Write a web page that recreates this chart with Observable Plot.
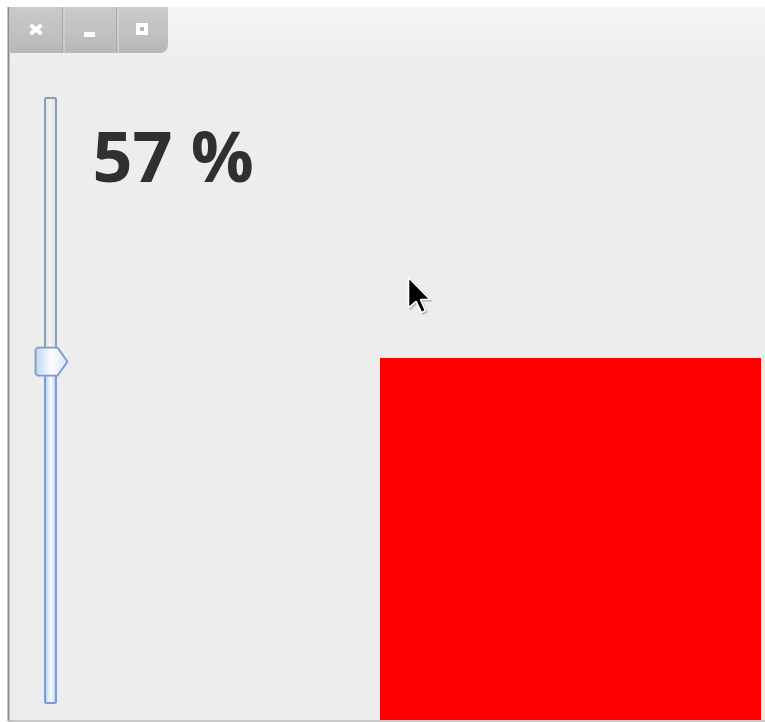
<!DOCTYPE html>
<html><head><meta charset="utf-8">
<script src="https://cdn.jsdelivr.net/npm/d3@7"></script>
<script src="https://cdn.jsdelivr.net/npm/@observablehq/plot@0.6"></script>
<style>html,body{margin:0;padding:0;background:#fff;overflow:hidden}#chart svg{display:block}</style>
</head><body><div id="chart"></div>
<script>
// ---- data ----
const sliderValue = [57];          // percent shown by the slider
const sliderDomain = [0, 100];
const labelUnit = ["%"];
const windowButtons = ["close", "minimize", "maximize"];

// ---- layout ----
const W = 765, H = 722;
const value = sliderValue[0];
const valueY = d3.scaleLinear(sliderDomain, [690, 113]);
const cy = valueY(value);

const defs = () => {
  const d = d3.create("svg:defs");
  const grad = (id, x1, y1, x2, y2, stops) => {
    const g = d.append("linearGradient").attr("id", id).attr("gradientUnits", "userSpaceOnUse")
      .attr("x1", x1).attr("y1", y1).attr("x2", x2).attr("y2", y2);
    stops.forEach(([o, c]) => g.append("stop").attr("offset", o).attr("stop-color", c));
  };
  grad("titleGrad", 0, 7, 0, 62, [[0, "#f6f6f4"], [1, "#ededed"]]);
  grad("tabGrad", 0, 7, 0, 53, [[0, "#cbcbc9"], [1, "#b8b8b6"]]);
  grad("trackGrad", 45, 0, 56, 0, [[0, "#b7c9ea"], [0.35, "#e6eefa"], [0.6, "#f7f9fd"], [0.85, "#c9d8f1"], [1, "#9fb8e3"]]);
  grad("upperGrad", 45, 0, 56, 0, [[0, "#dfe3e8"], [0.5, "#f1f2f4"], [1, "#dde1e6"]]);
  grad("thumbGrad", 35, 0, 67, 0, [[0, "#c3d5f1"], [0.5, "#fbfcfe"], [1, "#dce7f8"]]);
  return d.node();
};

const thumb = [[35, cy - 12], [37, cy - 14], [57, cy - 14], [67, cy], [57, cy + 14], [37, cy + 14], [35, cy + 12]]
  .map(([x, y]) => ({x, y}));
const tip = [408, 277], s = 1.9;
const cursor = [[0, 0], [0, 16], [4, 12.5], [6.8, 18.5], [9, 17.4], [6.3, 11.6], [11.3, 11.6]]
  .map(([x, y]) => ({x: tip[0] + x * s, y: tip[1] + y * s}));
const cursorShadow = cursor.map(p => ({x: p.x + 1.5, y: p.y + 1.5}));

const plot = Plot.plot({
  width: W, height: H,
  marginTop: 0, marginRight: 0, marginBottom: 0, marginLeft: 0,
  x: {domain: [0, W], range: [0, W], axis: null},
  y: {domain: [0, H], range: [0, H], axis: null},
  style: {background: "transparent"},
  marks: [
    defs,
    // window body
    Plot.rect([0], {x1: 8, x2: W, y1: 7, y2: 721, fill: "#ededed"}),
    Plot.rect([0], {x1: 9, x2: W, y1: 7, y2: 62, fill: "url(#titleGrad)"}),
    Plot.ruleX([8], {y1: 7, y2: 721, stroke: "#8e8e8e", strokeWidth: 2}),
    Plot.ruleY([720.5], {x1: 8, x2: W, stroke: "#b7b7b7", strokeWidth: 1.5}),
    // title tab with buttons
    Plot.rect([0], {x1: 10, x2: 168, y1: 7, y2: 53, rx: 8, fill: "url(#tabGrad)"}),
    Plot.rect([0], {x1: 10, x2: 158, y1: 7, y2: 53, fill: "url(#tabGrad)"}),
    Plot.rect([0], {x1: 10, x2: 168, y1: 7, y2: 43, fill: "url(#tabGrad)"}),
    Plot.ruleX([62, 116], {y1: 7, y2: 53, stroke: "#a9a9a7"}),
    Plot.ruleX([63.5, 117.5], {y1: 7, y2: 53, stroke: "#d9d9d7"}),
    // close icon
    Plot.link([0], {x1: 30, y1: 24.5, x2: 41, y2: 33.5, stroke: "#fff", strokeWidth: 4}),
    Plot.link([0], {x1: 41, y1: 24.5, x2: 30, y2: 33.5, stroke: "#fff", strokeWidth: 4}),
    // minimize icon
    Plot.rect([0], {x1: 84, x2: 95, y1: 32, y2: 37, fill: "#fff"}),
    // maximize icon
    Plot.rect([0], {x1: 136, x2: 148, y1: 23, y2: 35, fill: "#fff"}),
    Plot.rect([0], {x1: 140, x2: 144, y1: 27, y2: 31, fill: "#b8b8b6"}),
    // slider track
    Plot.rect([0], {x1: 45, x2: 56, y1: 98, y2: cy, rx: 1.5, fill: "url(#upperGrad)", stroke: "#8c9db2", strokeWidth: 2}),
    Plot.rect([0], {x1: 45, x2: 56, y1: cy, y2: 703, rx: 1.5, fill: "url(#trackGrad)", stroke: "#7d9dd6", strokeWidth: 2}),
    // slider thumb
    Plot.line(thumb, {x: "x", y: "y", curve: "linear-closed", fill: "url(#thumbGrad)", stroke: "#7a9bd3", strokeWidth: 1.8}),
    // value label
    Plot.text(sliderValue, {
      x: 92, y: 181, text: d => `${d} ${labelUnit[0]}`,
      textAnchor: "start", lineAnchor: "bottom",
      fontFamily: "Open Sans", fontWeight: 700, fontSize: 70, fill: "#303030"
    }),
    // red square
    Plot.rect([0], {x1: 380, x2: 761, y1: 358, y2: 720, fill: "#ff0000"}),
    // mouse cursor
    Plot.line(cursorShadow, {x: "x", y: "y", curve: "linear-closed", fill: "#000", fillOpacity: 0.18, stroke: "#000", strokeOpacity: 0.12, strokeWidth: 2}),
    Plot.line(cursor, {x: "x", y: "y", curve: "linear-closed", fill: "#000", stroke: "#fff", strokeWidth: 1.6, strokeLinejoin: "miter"})
  ]
});
document.getElementById("chart").appendChild(plot);
</script>
</body></html>
